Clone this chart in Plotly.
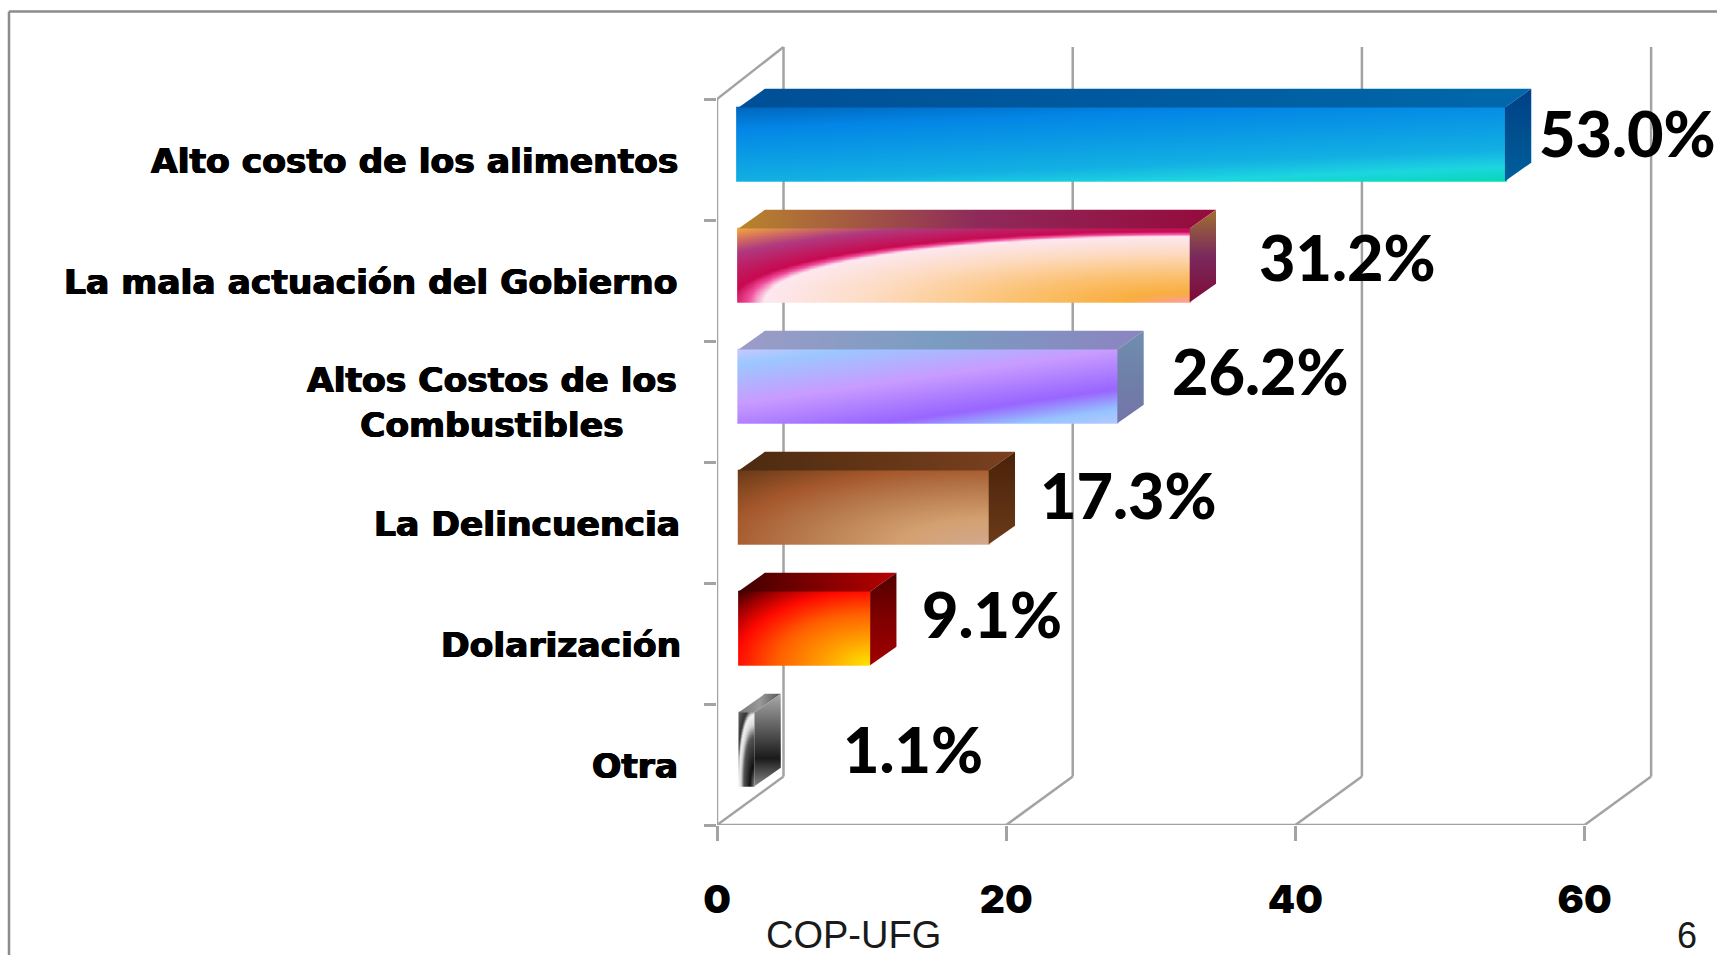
import numpy as np
import plotly.graph_objects as go

categories = ["Alto costo de los alimentos", "La mala actuación del Gobierno",
              "Altos Costos de los<br>Combustibles", "La Delincuencia", "Dolarización", "Otra"]
values = [53.0, 31.2, 26.2, 17.3, 9.1, 1.1]
value_labels = ["53.0%", "31.2%", "26.2%", "17.3%", "9.1%", "1.1%"]
x_ticks = [0, 20, 40, 60]
band_edges = [0, 1, 2, 3, 4, 5, 6]

W, H = 1717, 955
PX_X0, PX_FLOOR = 717.0, 825.0
PX_PER_X, PX_PER_Y = 14.46, 121.0
GREY = "#a3a3a3"
WALL_DX, WALL_DY, WALL_TOP = 4.6, 0.40, 6.43
BAR_X0, BAR_TOP, BAR_BOT = 1.49, 0.07, 0.68
BAR_DX, BAR_DY = 1.82, 0.154

label_gap_px = [6, 41, 26, 23, 24, 60]
label_dy_px = [-12, -9, -16, -13, -15, -1]
cat_right_px = [680, 679, 679, 682, 683, 680]


def ramp(*stops):
    return [[s, c] for s, c in stops]


front_scales = [
    ramp((0, "#0068c0"), (.2, "#0386e6"), (.5, "#0c9fe4"), (.7, "#13b0e3"), (.86, "#1dd6df"), (1, "#04d9b4")),
    ramp((0, "#ff9f9f"), (.1, "#f9ae40"), (.25, "#fbbf6a"), (.5, "#fddcc4"), (.66, "#fde8f0"),
         (.685, "#f04c9c"), (.71, "#c80a50"), (.85, "#b03a80"), (1, "#f2a440")),
    ramp((0, "#c4c8ff"), (.115, "#9cc8ff"), (.42, "#c89cff"), (.73, "#9966ff"), (.885, "#96c4ff"), (1, "#b8c8ff")),
    ramp((0, "#d2a88f"), (.25, "#d3a070"), (.55, "#b5774a"), (.75, "#a5582c"), (1, "#6a3a17")),
    ramp((0, "#ffe800"), (.25, "#ffa000"), (.5, "#ff6000"), (.72, "#ff0a00"), (.85, "#b00000"), (1, "#400000")),
    ramp((0, "#8a8a8a"), (.2, "#111111"), (.5, "#555555"), (.62, "#d8d8d8"), (.72, "#f4f4f4"),
         (.8, "#333333"), (1, "#666666")),
]
top_scales = [
    ["#004f96", "#005a9f", "#0069ab"],
    ["#b8842c", "#8e2a5a", "#960a3c"],
    ["#9c9cc8", "#7a9cc0", "#8c84c0"],
    ["#4c2a10", "#633616", "#7a4020"],
    ["#400000", "#800000", "#b80000"],
    ["#777777", "#999999", "#555555"],
]
side_scales = [
    ["#004088", "#00508f", "#005f9c"],
    ["#a07030", "#7a2a5c", "#7e0a38"],
    ["#6f8fb0", "#6f80a8", "#7474a8"],
    ["#4a2208", "#5a2e12", "#6b3a18"],
    ["#500000", "#800000", "#a00000"],
    ["#aaaaaa", "#1a1a1a", "#888888"],
]
side_mid = [.5, .5, .5, .5, .5, .7]


def field(i, u, v):
    A, B = 1 - u, 1 - v
    if i == 1:
        r = (A ** 2.1 + (B / 0.95) ** 2.1) ** (1 / 2.1) / 0.98
        return r / 1.46
    if i == 5:
        r = (A ** 2.27 + B ** 2.27) ** (1 / 2.27) / 0.95
        return r / 1.42
    if i in (3, 4):
        return np.sqrt(A ** 2 + B ** 2) / np.sqrt(2)
    if i == 0:
        return 0.7 * v + 0.3 * u
    return (0.75 * v + 0.55 * u) / 1.3


fig = go.Figure()
for i, val in enumerate(values):
    band_top = 6 - i
    y0, y1 = band_top - BAR_BOT, band_top - BAR_TOP
    x0, x1 = BAR_X0, BAR_X0 + val
    nu, nv = 160, 50
    xs = np.linspace(x0, x1, nu)
    ys = np.linspace(y0, y1, nv)
    u, v = np.meshgrid(np.linspace(0, 1, nu), np.linspace(1, 0, nv))
    fig.add_trace(go.Heatmap(x=xs, y=ys, z=field(i, u, v), zmin=0, zmax=1, zsmooth="best",
                             colorscale=front_scales[i], showscale=False, hoverinfo="skip"))
    fig.add_trace(go.Scatter(
        x=[x0, x1, x1 + BAR_DX, x0 + BAR_DX, x0], y=[y1, y1, y1 + BAR_DY, y1 + BAR_DY, y1],
        mode="lines", line=dict(width=0), fill="toself", showlegend=False, hoverinfo="skip",
        fillgradient=dict(type="horizontal",
                          colorscale=[[0, top_scales[i][0]], [.5, top_scales[i][1]], [1, top_scales[i][2]]])))
    fig.add_trace(go.Scatter(
        x=[x1, x1 + BAR_DX, x1 + BAR_DX, x1, x1], y=[y1, y1 + BAR_DY, y0 + BAR_DY, y0, y1],
        mode="lines", line=dict(width=0), fill="toself", showlegend=False, hoverinfo="skip",
        fillgradient=dict(type="vertical",
                          colorscale=[[0, side_scales[i][2]], [1 - side_mid[i], side_scales[i][1]],
                                      [1, side_scales[i][0]]])))

shapes = []


def seg(xa, ya, xb, yb, color=GREY):
    shapes.append(dict(type="line", xref="x", yref="y", layer="below", x0=xa, y0=ya, x1=xb, y1=yb,
                       line=dict(color=color, width=2.5)))


for t in x_ticks:
    seg(t, 0, t + WALL_DX, WALL_DY)
    seg(t + WALL_DX, WALL_DY, t + WALL_DX, WALL_TOP)
seg(x_ticks[0], band_edges[-1], x_ticks[0] + WALL_DX, WALL_TOP)
seg(x_ticks[0], band_edges[0], x_ticks[0], band_edges[-1])
seg(x_ticks[0], band_edges[0], x_ticks[-1], band_edges[0])
for a, b, c, d in [(9, 11.5, W, 11.5), (9, 11.5, 9, H)]:
    shapes.append(dict(type="line", xref="paper", yref="paper", layer="below",
                       x0=a / W, y0=1 - b / H, x1=c / W, y1=1 - d / H,
                       line=dict(color="#8c8c8c", width=2.5)))

annotations = []
for i, (cat, val, lab) in enumerate(zip(categories, values, value_labels)):
    band_centre_px = PX_FLOOR - (6 - i - 0.5) * PX_PER_Y
    annotations.append(dict(xref="paper", yref="paper", x=cat_right_px[i] / W, y=1 - (band_centre_px + 1) / H,
                            text=cat, showarrow=False, xanchor="right", yanchor="middle", align="center",
                            font=dict(family="DejaVu Sans", size=34.5, color="#000000", weight=700,
                                      shadow="0.7px 0 0 #000, -0.7px 0 0 #000, 0 0.4px 0 #000")))
    annotations.append(dict(xref="x", yref="y", x=BAR_X0 + val + BAR_DX, y=6 - i - (BAR_TOP + BAR_BOT) / 2,
                            text=lab, showarrow=False, xanchor="left", yanchor="middle",
                            xshift=label_gap_px[i], yshift=-label_dy_px[i],
                            font=dict(family="Lato", size=63, color="#000000", weight=900)))
annotations.append(dict(xref="paper", yref="paper", x=853 / W, y=1 - 935 / H, text="COP-UFG", showarrow=False,
                        xanchor="center", yanchor="middle",
                        font=dict(family="Liberation Sans", size=38, color="#1a1a1a")))
annotations.append(dict(xref="paper", yref="paper", x=1687 / W, y=1 - 935 / H, text="6", showarrow=False,
                        xanchor="center", yanchor="middle",
                        font=dict(family="Liberation Sans", size=36, color="#1a1a1a")))

fig.update_layout(
    width=W, height=H, margin=dict(l=0, r=0, t=0, b=0, pad=0), autosize=False,
    paper_bgcolor="#ffffff", plot_bgcolor="#ffffff", showlegend=False,
    shapes=shapes, annotations=annotations,
    xaxis=dict(domain=[PX_X0 / W, 1], range=[0, (W - PX_X0) / PX_PER_X], tickmode="array", tickvals=x_ticks,
               automargin=False, showgrid=False, zeroline=False, showline=False, ticks="outside", ticklen=15,
               tickwidth=2.5, tickcolor=GREY, ticklabelstandoff=25,
               tickfont=dict(family="Inter", size=39, color="#000000", weight=900)),
    yaxis=dict(domain=[(H - PX_FLOOR) / H, 1], range=[0, PX_FLOOR / PX_PER_Y], tickmode="array",
               tickvals=band_edges, automargin=False, showticklabels=False, showgrid=False, zeroline=False,
               showline=False, ticks="outside", ticklen=12, tickwidth=2.5, tickcolor=GREY),
)
fig.write_html("out.html", config=dict(displayModeBar=False),
               post_script="document.body.style.margin='0';document.body.style.overflow='hidden';")
